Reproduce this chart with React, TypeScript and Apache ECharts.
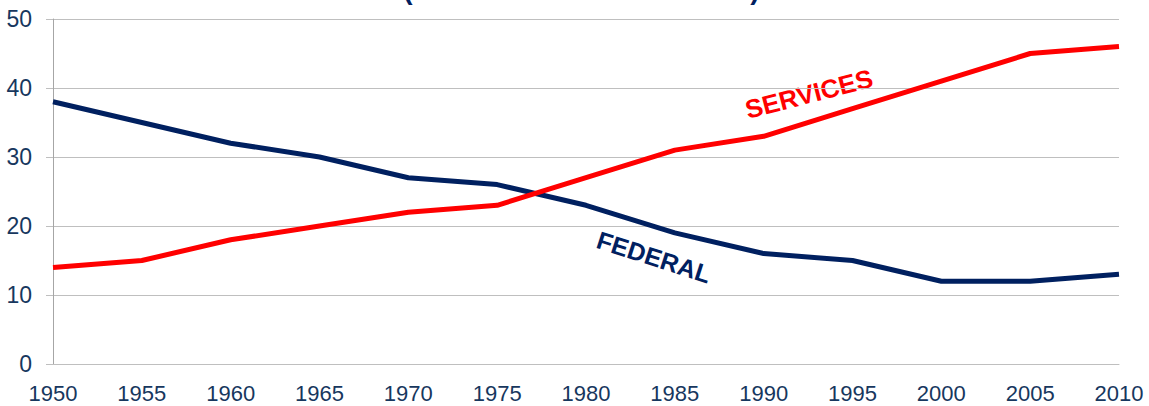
import React, { useEffect, useRef } from "react";
import * as echarts from "echarts";

const years = ["1950", "1955", "1960", "1965", "1970", "1975", "1980", "1985", "1990", "1995", "2000", "2005", "2010"];
const federal = [38, 35, 32, 30, 27, 26, 23, 19, 16, 15, 12, 12, 13];
const services = [14, 15, 18, 20, 22, 23, 27, 31, 33, 37, 41, 45, 46];
const yMin = 0;
const yMax = 50;
const yStep = 10;

const NAVY = "#002060";
const RED = "#ff0000";
const LABEL = "#17375e";
const FONT = "'Liberation Sans Narrow', 'Arial Narrow', 'Liberation Sans', Arial, sans-serif";

export default function App() {
  const ref = useRef<HTMLDivElement>(null);
  useEffect(() => {
    if (!ref.current) return;
    const chart = echarts.init(ref.current, null, { renderer: "svg" });
    chart.setOption({
      animation: false,
      backgroundColor: "#ffffff",
      grid: { left: 53, right: 30, top: 19, bottom: 42, containLabel: false },
      xAxis: {
        type: "category",
        data: years,
        boundaryGap: false,
        axisLine: { show: true, lineStyle: { color: "#bfbfbf", width: 1 } },
        axisTick: { show: false },
        axisLabel: { color: LABEL, fontSize: 22, fontFamily: FONT, margin: 18 },
        splitLine: { show: false },
      },
      yAxis: {
        type: "value",
        min: yMin,
        max: yMax,
        interval: yStep,
        axisLine: { show: true, lineStyle: { color: "#a6a6a6", width: 1 } },
        axisTick: { show: true, length: 7, lineStyle: { color: "#bfbfbf" } },
        axisLabel: { color: LABEL, fontSize: 23, fontFamily: FONT, margin: 21 },
        splitLine: { show: true, lineStyle: { color: "#bfbfbf", width: 1 } },
      },
      series: [
        {
          name: "FEDERAL",
          type: "line",
          data: federal,
          symbol: "none",
          lineStyle: { color: NAVY, width: 5 },
          itemStyle: { color: NAVY },
        },
        {
          name: "SERVICES",
          type: "line",
          data: services,
          symbol: "none",
          lineStyle: { color: RED, width: 5 },
          itemStyle: { color: RED },
        },
      ],
      graphic: [
        {
          type: "text",
          x: 809,
          y: 94,
          rotation: 0.252,
          style: {
            text: "SERVICES",
            fill: RED,
            font: "bold 26px 'Liberation Sans', Arial, sans-serif",
            align: "center",
            verticalAlign: "middle",
          },
        },
        {
          type: "text",
          x: 654,
          y: 257,
          rotation: -0.31,
          style: {
            text: "FEDERAL",
            fill: NAVY,
            font: "bold 25px 'Liberation Sans', Arial, sans-serif",
            align: "center",
            verticalAlign: "middle",
          },
        },
        {
          type: "text",
          x: 408,
          y: -25,
          style: {
            text: "(",
            fill: NAVY,
            font: "bold 28px 'Liberation Sans', Arial, sans-serif",
            align: "center",
            verticalAlign: "top",
          },
        },
        {
          type: "text",
          x: 755,
          y: -25,
          style: {
            text: ")",
            fill: NAVY,
            font: "bold 28px 'Liberation Sans', Arial, sans-serif",
            align: "center",
            verticalAlign: "top",
          },
        },
      ],
    });
    return () => chart.dispose();
  }, []);
  return (
    <div
      ref={ref}
      style={{ position: "fixed", left: 0, top: 0, width: 1149, height: 406, background: "#fff" }}
    />
  );
}
